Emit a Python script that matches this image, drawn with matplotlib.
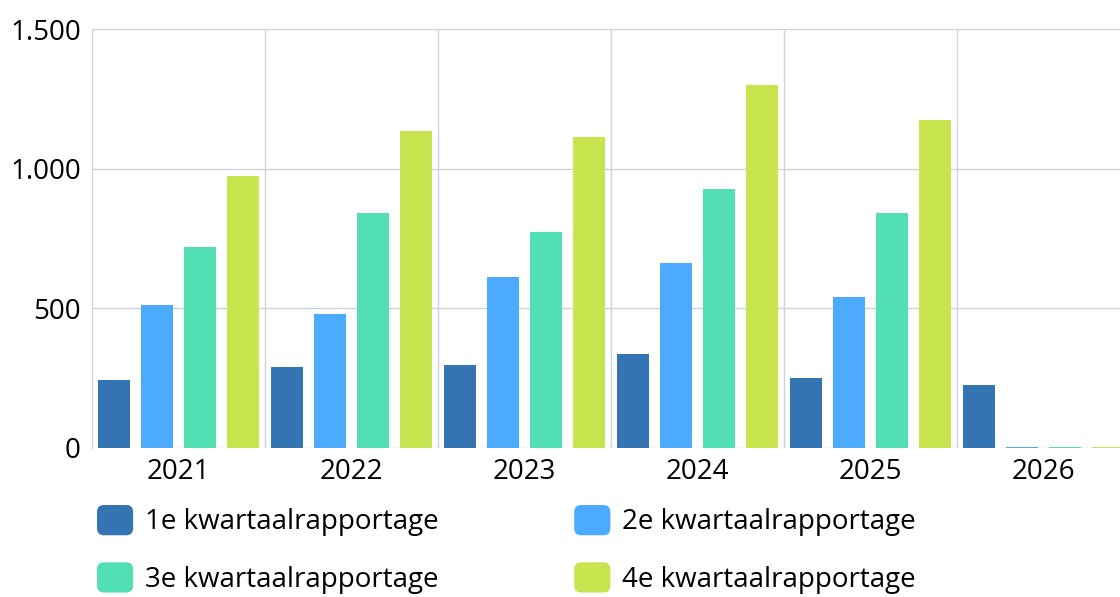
import matplotlib.pyplot as plt
import numpy as np
from matplotlib.patches import Patch, FancyBboxPatch
from matplotlib.legend_handler import HandlerPatch

plt.rcParams['font.family'] = ['Open Sans', 'DejaVu Sans']

# Data
years = ["2021", "2022", "2023", "2024", "2025", "2026"]
series_names = ["1e kwartaalrapportage", "2e kwartaalrapportage",
                "3e kwartaalrapportage", "4e kwartaalrapportage"]
q1 = [243, 290, 297, 337, 251, 226]
q2 = [512, 480, 612, 662, 541, 4]
q3 = [720, 841, 773, 927, 841, 4]
q4 = [974, 1135, 1113, 1300, 1174, 4]
colors = ["#3574B2", "#4DABFF", "#52DFB3", "#C8E550"]


class RoundedSquare(HandlerPatch):
    def create_artists(self, legend, orig_handle, xdescent, ydescent,
                       width, height, fontsize, trans):
        p = FancyBboxPatch((-xdescent + 2, -ydescent + 2), width - 4, height - 4,
                           boxstyle="round,pad=2,rounding_size=5",
                           facecolor=orig_handle.get_facecolor(),
                           edgecolor="none", transform=trans)
        return [p]


fig = plt.figure(figsize=(11.2, 5.97), dpi=100)
ax = fig.add_axes([92 / 1120, 149 / 597, 1038 / 1120, 419 / 597])

x = np.arange(len(years))
width = 0.185
offsets = [-0.375, -0.125, 0.125, 0.375]
for vals, off, c, name in zip([q1, q2, q3, q4], offsets, colors, series_names):
    ax.bar(x + off, vals, width, color=c, label=name, zorder=3)

ax.set_xlim(-0.5, len(years) - 0.5)
ax.set_ylim(0, 1500)
ax.set_yticks([0, 500, 1000, 1500])
ax.set_yticklabels(["0", "500", "1.000", "1.500"])
ax.set_xticks(x)
ax.set_xticklabels(years)
ax.set_xticks(np.arange(len(years) + 1) - 0.5, minor=True)
ax.tick_params(axis='both', which='both', length=0, labelsize=20, colors="#000000")
ax.tick_params(axis='x', pad=7)
ax.tick_params(axis='y', pad=8)
ax.grid(axis='y', which='major', color="#CDD3DC", linewidth=1, zorder=0)
ax.grid(axis='x', which='minor', color="#CDD3DC", linewidth=1, zorder=0)
ax.grid(axis='x', which='major', visible=False)
for s in ["top", "right", "bottom"]:
    ax.spines[s].set_visible(False)
ax.spines["left"].set_color("#CDD3DC")

# legend is filled column by column, so reorder to read row by row
order = [0, 2, 1, 3]
handles = [Patch(facecolor=colors[i]) for i in order]
labels = [series_names[i] for i in order]
fig.legend(handles, labels, loc="upper left",
           bbox_to_anchor=(97 / 1120, 1 - 505 / 597), ncol=2,
           fontsize=20, frameon=False, borderpad=0, borderaxespad=0,
           handler_map={Patch: RoundedSquare()},
           handlelength=1.3, handleheight=1.3, handletextpad=0.43,
           columnspacing=4.88, labelspacing=0.93)

fig.savefig("out.png", dpi=100)
